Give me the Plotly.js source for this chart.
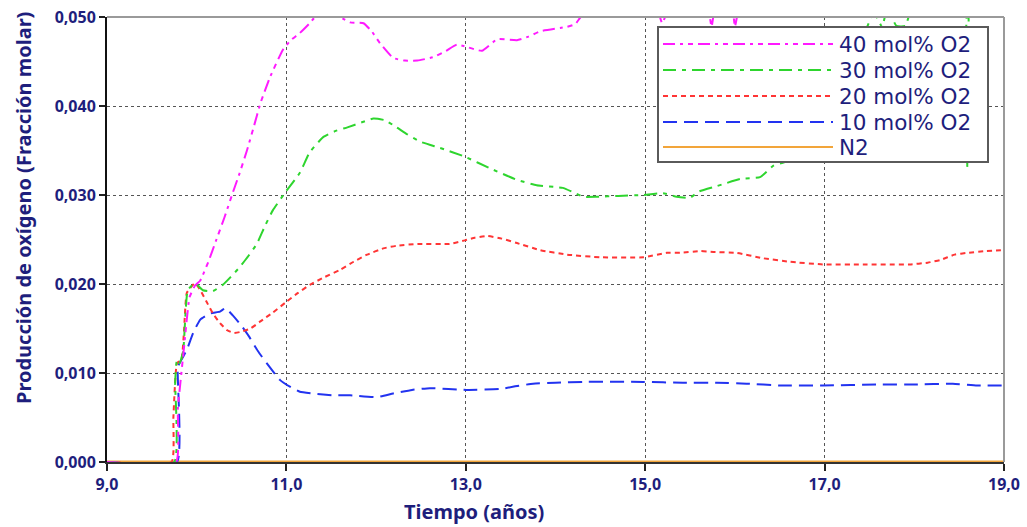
<!DOCTYPE html>
<html>
<head>
<meta charset="utf-8">
<script src="https://cdn.plot.ly/plotly-3.0.1.min.js"></script>
<style>html,body{margin:0;padding:0;background:#fff;}#chart{width:1027px;height:527px;}</style>
</head>
<body>
<div id="chart"></div>
<script>
// ---- Data ----
const seriesNames = ["40 mol% O2", "30 mol% O2", "20 mol% O2", "10 mol% O2", "N2"];

const time40 = [9.0, 9.77, 9.79, 9.85, 9.92, 9.98, 10.04, 10.13, 10.22, 10.31, 10.4, 10.48, 10.56, 10.64, 10.71, 10.82, 10.96, 11.05, 11.15, 11.25, 11.34, 11.45, 11.56, 11.71, 11.86, 11.95, 12.04, 12.19, 12.32, 12.46, 12.64, 12.78, 12.9, 12.99, 13.18, 13.35, 13.57, 13.7, 13.83, 14.13, 14.22, 14.3, 14.35, 14.4, 14.6, 14.9, 15.1, 15.19, 15.28, 15.5, 15.7, 15.74, 15.78, 15.9, 15.98, 16.0, 16.04, 16.2, 16.6, 17.0, 17.5, 18.0, 18.5, 19.0];
const o2_40 = [0, 0, 0.006, 0.012, 0.0185, 0.0198, 0.0204, 0.0225, 0.025, 0.0275, 0.0302, 0.0325, 0.035, 0.0378, 0.0403, 0.0433, 0.0463, 0.0474, 0.0482, 0.0492, 0.0502, 0.0506, 0.0502, 0.0494, 0.0493, 0.0484, 0.0471, 0.0454, 0.0451, 0.0451, 0.0455, 0.0462, 0.0469, 0.0467, 0.0462, 0.0475, 0.0474, 0.0478, 0.0484, 0.0489, 0.0492, 0.0502, 0.0499, 0.0506, 0.052, 0.053, 0.052, 0.0493, 0.0515, 0.053, 0.051, 0.0489, 0.0512, 0.0525, 0.0505, 0.0489, 0.0508, 0.054, 0.056, 0.058, 0.06, 0.061, 0.062, 0.063];

const time30 = [9.0, 9.75, 9.76, 9.78, 9.81, 9.85, 9.9, 9.98, 10.07, 10.18, 10.29, 10.38, 10.48, 10.58, 10.67, 10.76, 10.85, 10.98, 11.15, 11.26, 11.41, 11.55, 11.68, 11.85, 11.97, 12.1, 12.23, 12.35, 12.49, 12.71, 12.99, 13.27, 13.57, 13.79, 14.08, 14.2, 14.31, 14.46, 14.7, 14.98, 15.2, 15.35, 15.5, 15.6, 15.8, 16.06, 16.28, 16.43, 16.58, 16.8, 17.0, 17.2, 17.4, 17.55, 17.64, 17.7, 17.8, 17.9, 18.0, 18.3, 18.57, 18.59, 18.61, 18.8, 19.0];
const o2_30 = [0, 0, 0.009, 0.0115, 0.0111, 0.0125, 0.0193, 0.0201, 0.0193, 0.0192, 0.0199, 0.0208, 0.0219, 0.0232, 0.0245, 0.0265, 0.0283, 0.0302, 0.0325, 0.0348, 0.0365, 0.0372, 0.0376, 0.0382, 0.0386, 0.0384, 0.0376, 0.0368, 0.036, 0.0353, 0.0343, 0.033, 0.0317, 0.0311, 0.0308, 0.0303, 0.0298, 0.0298, 0.0299, 0.03, 0.0302, 0.0298, 0.0297, 0.0304, 0.031, 0.0318, 0.032, 0.0333, 0.0338, 0.037, 0.040, 0.043, 0.047, 0.0505, 0.0489, 0.051, 0.049, 0.049, 0.052, 0.054, 0.054, 0.033, 0.054, 0.055, 0.055];

const time20 = [9.0, 9.72, 9.74, 9.78, 9.83, 9.86, 9.89, 9.98, 10.04, 10.11, 10.18, 10.26, 10.34, 10.41, 10.48, 10.6, 10.71, 10.85, 11.0, 11.13, 11.26, 11.43, 11.6, 11.75, 11.9, 12.08, 12.23, 12.46, 12.82, 12.99, 13.1, 13.24, 13.4, 13.57, 13.83, 14.13, 14.5, 14.98, 15.24, 15.39, 15.61, 15.76, 16.02, 16.31, 16.61, 16.98, 17.43, 17.95, 18.15, 18.29, 18.45, 18.59, 18.8, 19.0];
const o2_20 = [0, 0, 0.005, 0.0111, 0.0115, 0.015, 0.019, 0.0201, 0.0193, 0.018, 0.0167, 0.0156, 0.0148, 0.0145, 0.0146, 0.015, 0.0158, 0.0168, 0.018, 0.019, 0.0199, 0.0208, 0.0216, 0.0225, 0.0233, 0.024, 0.0243, 0.0245, 0.0245, 0.0249, 0.0252, 0.0254, 0.0251, 0.0246, 0.0238, 0.0233, 0.023, 0.023, 0.0235, 0.0235, 0.0237, 0.0236, 0.0235, 0.0229, 0.0225, 0.0222, 0.0222, 0.0222, 0.0224, 0.0227, 0.0233, 0.0235, 0.0237, 0.0238];

const time10 = [9.0, 9.78, 9.79, 9.83, 9.89, 9.96, 10.04, 10.15, 10.26, 10.32, 10.4, 10.5, 10.59, 10.68, 10.78, 10.93, 11.05, 11.15, 11.3, 11.52, 11.71, 12.01, 12.19, 12.4, 12.6, 13.01, 13.38, 13.55, 13.75, 14.0, 14.31, 14.98, 15.42, 15.8, 16.13, 16.5, 16.98, 17.6, 18.0, 18.43, 18.7, 19.0];
const o2_10 = [0, 0, 0.0107, 0.0115, 0.0126, 0.0145, 0.016, 0.0167, 0.0169, 0.0173, 0.0165, 0.0153, 0.014, 0.0125, 0.0111, 0.0092, 0.0084, 0.0079, 0.0077, 0.0075, 0.0075, 0.0073, 0.0077, 0.0081, 0.0083, 0.0081, 0.0082, 0.0085, 0.0088, 0.0089, 0.009, 0.009, 0.0089, 0.0089, 0.0088, 0.0086, 0.0086, 0.0087, 0.0087, 0.0088, 0.0086, 0.0086];

const timeN2 = [9.0, 19.0];
const o2_N2 = [0, 0];

const xTickVals = [9, 11, 13, 15, 17, 19];
const yTickVals = [0, 0.01, 0.02, 0.03, 0.04, 0.05];

// ---- Styles ----
const colors = ["#ff1aff", "#2ed52e", "#ff3535", "#2233f0", "#f2a53a"];
const dashes = ["12px,5px,3px,5px,5px,5px", "13px,6px,4px,6px", "5px,4px", "14px,7px", "solid"];
const navy = "#1e1e7c";

const traces = [
  {x: time40, y: o2_40},
  {x: time30, y: o2_30},
  {x: time20, y: o2_20},
  {x: time10, y: o2_10},
  {x: timeN2, y: o2_N2}
].map((d, i) => ({
  x: d.x, y: d.y, type: "scatter", mode: "lines", name: seriesNames[i],
  showlegend: false,
  line: {color: colors[i], width: i === 4 ? 3 : 2, dash: dashes[i], shape: "spline", smoothing: 0.4}
}));
traces.reverse();

// ---- Custom legend drawn to match the long line samples ----
const plotL = 107, plotR = 1004, plotT = 17, plotB = 462;
const px2x = p => (p - plotL) / (plotR - plotL);
const px2y = p => (plotB - p) / (plotB - plotT);
const legendRows = [44, 70, 96, 122, 147];

const shapes = [
  {type: "line", xref: "paper", yref: "paper", x0: 0, x1: 1, y0: 1, y1: 1, line: {color: "#9a9a9a", width: 2}},
  {type: "line", xref: "paper", yref: "paper", x0: 1, x1: 1, y0: 0, y1: 1, line: {color: "#9a9a9a", width: 2}},
  {type: "rect", xref: "paper", yref: "paper", x0: px2x(658), x1: px2x(988), y0: px2y(162), y1: px2y(27),
   fillcolor: "#ffffff", line: {color: "#5a5a5a", width: 2}}
];
const annotations = [];
seriesNames.forEach((n, i) => {
  shapes.push({type: "line", xref: "paper", yref: "paper", x0: px2x(663), x1: px2x(833),
    y0: px2y(legendRows[i]), y1: px2y(legendRows[i]),
    line: {color: colors[i], width: 2, dash: dashes[i]}});
  annotations.push({xref: "paper", yref: "paper", x: px2x(837), y: px2y(legendRows[i]),
    xanchor: "left", yanchor: "middle", showarrow: false, text: n,
    font: {family: "DejaVu Sans", size: 21.5, color: navy}});
});
annotations.push({xref: "paper", yref: "paper", x: px2x(474), y: px2y(511), xanchor: "center", yanchor: "middle",
  showarrow: false, text: "<b>Tiempo (años)</b>", font: {family: "Noto Sans", size: 20, color: navy}});
annotations.push({xref: "paper", yref: "paper", x: px2x(23), y: px2y(208), xanchor: "center", yanchor: "middle",
  textangle: -90, showarrow: false, text: "<b>Producción de oxígeno (Fracción molar)</b>",
  font: {family: "Noto Sans", size: 20, color: navy}});

const layout = {
  width: 1027, height: 527,
  margin: {l: plotL, r: 1027 - plotR, t: plotT, b: 527 - plotB},
  paper_bgcolor: "#ffffff", plot_bgcolor: "#ffffff",
  separators: ",.",
  font: {family: "Noto Sans", color: navy},
  xaxis: {
    range: [9, 19], tickvals: xTickVals, tickformat: ".1f",
    showgrid: true, gridcolor: "#555555", griddash: "dot", gridwidth: 1,
    zeroline: false, showline: true, linecolor: "#333333", linewidth: 2, layer: "below traces",
    ticks: "outside", ticklen: 7, tickwidth: 2, tickcolor: "#222222",
    tickfont: {family: "Noto Sans", size: 16, color: navy, weight: 700}
  },
  yaxis: {
    range: [0, 0.05], tickvals: yTickVals, tickformat: ".3f",
    showgrid: true, gridcolor: "#555555", griddash: "dot", gridwidth: 1,
    zeroline: false, showline: true, linecolor: "#111111", linewidth: 2, layer: "below traces",
    ticks: "outside", ticklen: 6, tickwidth: 1.5, tickcolor: "#222222",
    tickfont: {family: "Noto Sans", size: 16, color: navy, weight: 700}
  },
  shapes: shapes,
  annotations: annotations
};

Plotly.newPlot("chart", traces, layout, {displayModeBar: false, staticPlot: true});
</script>
</body>
</html>
